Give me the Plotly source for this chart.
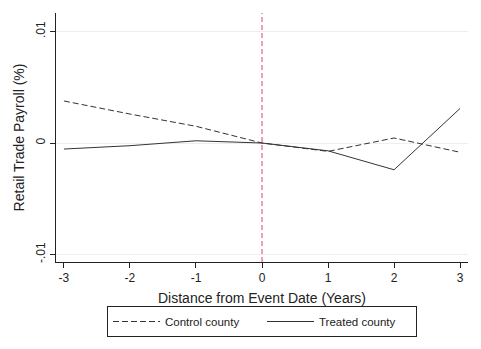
import plotly.graph_objects as go

years = [-3, -2, -1, 0, 1, 2, 3]
year_labels = ["-3", "-2", "-1", "0", "1", "2", "3"]
control = [0.00377, 0.0026, 0.0015, 0.0, -0.00075, 0.00045, -0.00083]
treated = [-0.00054, -0.00024, 0.0002, 0.0, -0.0007, -0.0024, 0.0031]
ytick_vals = [-0.01, 0, 0.01]
ytick_text = ["-.01", "0", ".01"]

font = dict(family="Liberation Sans, Arial, sans-serif", size=12, color="#222222")

fig = go.Figure()
fig.add_trace(go.Scatter(x=years, y=control, mode="lines", name="Control county",
                         line=dict(color="#333333", width=1, dash="6px,3px")))
fig.add_trace(go.Scatter(x=years, y=treated, mode="lines", name="Treated county",
                         line=dict(color="#333333", width=1)))

fig.add_shape(type="line", xref="x", yref="paper", x0=0, x1=0, y0=0, y1=1,
              line=dict(color="#e0406a", width=1, dash="5px,3px"))

fig.update_layout(
    width=481, height=349,
    margin=dict(l=56, r=13, t=13, b=87, autoexpand=False),
    paper_bgcolor="white", plot_bgcolor="white",
    font=font,
    showlegend=True,
    legend=dict(orientation="h", x=262 / 481, xanchor="center", xref="container",
                y=1 - 306 / 349, yanchor="top", yref="container",
                bordercolor="#222222", borderwidth=1, bgcolor="white",
                font=dict(size=11.5), itemwidth=47, entrywidth=92,
                traceorder="normal"),
    xaxis=dict(range=[-3.12, 3.12], tickvals=years, ticktext=year_labels,
               ticks="outside", ticklen=5,
               tickcolor="#222222", showline=True, linecolor="#222222", linewidth=1,
               showgrid=False, zeroline=False,
               title=dict(text="Distance from Event Date (Years)", standoff=8)),
    yaxis=dict(range=[-0.01067, 0.01166], tickvals=ytick_vals, ticktext=ytick_text,
               tickangle=-90, ticks="outside", ticklen=5, tickcolor="#222222",
               showline=True, linecolor="#222222", linewidth=1,
               showgrid=True, gridcolor="#eeeeee", zeroline=False,
               title=dict(text="Retail Trade Payroll (%)", standoff=6)),
)
fig.write_html("out.html")
